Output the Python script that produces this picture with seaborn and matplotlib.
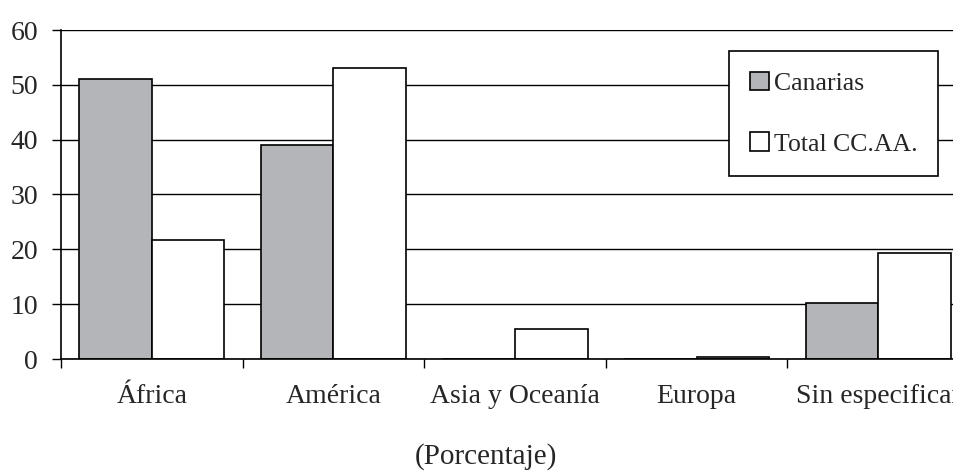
import pandas as pd
import seaborn as sns
import matplotlib.pyplot as plt
from matplotlib.ticker import FixedLocator

# Distribución por zona de origen (porcentaje)
regiones = ['África', 'América', 'Asia y Oceanía', 'Europa', 'Sin especificar']
canarias = [51, 39, 0, 0, 10.2]
total_ccaa = [21.7, 53, 5.5, 0.4, 19.3]
series = ['Canarias', 'Total CC.AA.']
colores = ['#b4b5b9', '#ffffff']

df = pd.DataFrame({
    'region': regiones * 2,
    'valor': canarias + total_ccaa,
    'serie': [series[0]] * len(regiones) + [series[1]] * len(regiones),
})

sns.set_style('white')
plt.rcParams['font.family'] = ['Liberation Serif', 'DejaVu Serif']
fs = 20

fig = plt.figure(figsize=(9.54, 4.73), dpi=100)
ax = fig.add_axes([61 / 954, 1 - 359 / 473, 908 / 954, 329 / 473])

sns.barplot(data=df, x='region', y='valor', hue='serie', palette=colores,
            saturation=1, edgecolor='black', linewidth=1.2, width=0.8, ax=ax)

ax.set_xlim(-0.5, 4.5)
ax.set_ylim(0, 60)
ax.set_yticks(range(0, 61, 10))
ax.yaxis.grid(True, color='black', linewidth=1)
ax.set_axisbelow(True)
ax.set_xlabel('')
ax.set_ylabel('')

for s in ['top', 'right']:
    ax.spines[s].set_visible(False)
for s in ['left', 'bottom']:
    ax.spines[s].set_color('black')
    ax.spines[s].set_linewidth(1.2)

ax.xaxis.set_minor_locator(FixedLocator([i - 0.5 for i in range(len(regiones) + 1)]))
ax.tick_params(axis='x', which='major', length=0, pad=18, labelsize=fs)
ax.tick_params(axis='x', which='minor', bottom=True, length=6.5, width=1, color='black')
ax.tick_params(axis='y', left=True, length=6.5, width=1, color='black', pad=10, labelsize=fs)

handles, labels = ax.get_legend_handles_labels()
ax.legend(handles, labels, loc='upper left',
          bbox_to_anchor=(729 / 954, 1 - 51 / 473), bbox_transform=fig.transFigure,
          frameon=True, fancybox=False, edgecolor='black', framealpha=1,
          fontsize=18.5, handlelength=0.75, handleheight=0.75, handletextpad=0.2,
          labelspacing=1.45, borderpad=0.8, borderaxespad=0)
ax.get_legend().get_frame().set_linewidth(1.2)

fig.text(486 / 954, 1 - 457 / 473, '(Porcentaje)', ha='center', va='center', fontsize=fs + 1)

plt.savefig('out.png', dpi=100)
